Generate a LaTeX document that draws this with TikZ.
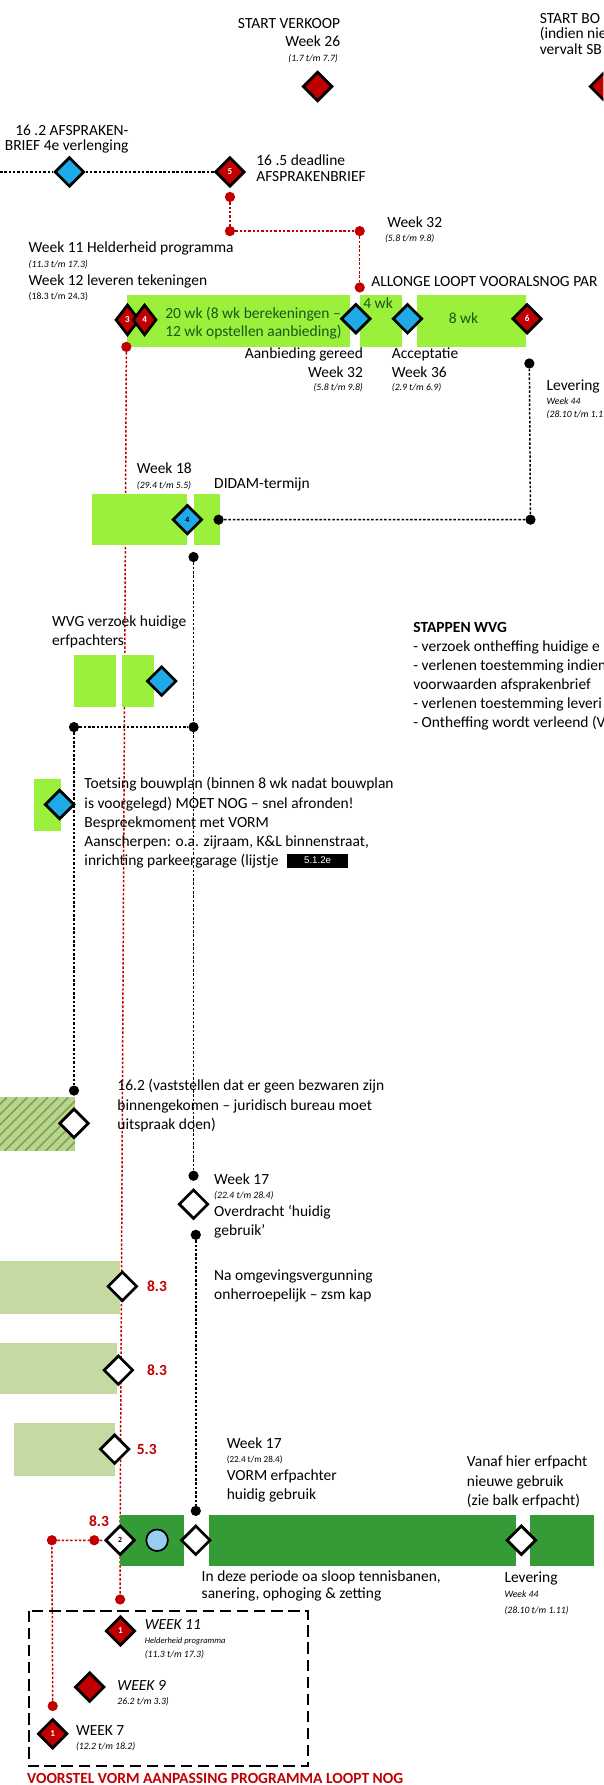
\documentclass[tikz,border=0pt]{standalone}
\usepackage{fontspec}
\setmainfont{Carlito}
\newfontfamily\arialfont{Liberation Sans}
\usepackage{xcolor}
\usetikzlibrary{shapes.geometric, backgrounds}

\definecolor{vred}{RGB}{192,0,0}
\definecolor{vblue}{RGB}{30,170,230}
\definecolor{vlime}{RGB}{155,240,60}
\definecolor{vsage}{RGB}{197,218,163}
\definecolor{vforest}{RGB}{53,155,55}
\definecolor{vhatchbg}{RGB}{185,212,145}
\definecolor{vhatch}{RGB}{125,165,75}
\definecolor{vcircle}{RGB}{150,205,240}
\definecolor{wktext}{RGB}{30,85,25}

\newcommand{\fsz}[2]{\fontsize{#1}{#2}\selectfont}

\tikzset{
  rdia/.style={diamond, draw=black, line width=2.4pt, fill=vred, minimum size=26pt,
    inner sep=0pt, text=white, font=\fsz{8}{8}\bfseries},
  bdia/.style={rdia, fill=vblue, text=black, font=\fsz{7}{7}\bfseries},
  wdia/.style={rdia, fill=white, text=black, font=\fsz{7}{7}\bfseries},
  bdot/.style={circle, fill=black, inner sep=0pt, minimum size=9pt},
  rdot/.style={bdot, fill=vred},
  bline/.style={black, line width=1.3pt, dash pattern=on 2.2pt off 1.6pt},
  rline/.style={bline, vred},
  lbl/.style={inner sep=0pt, align=left, anchor=base west, font=\fsz{13.6}{16.7}},
  datum/.style={inner sep=0pt, anchor=base west, font=\fsz{8.5}{10}\itshape},
  nr/.style={inner sep=0pt, anchor=base west, font=\fsz{13.6}{16}\bfseries, text=vred},
}

\begin{document}
\begin{tikzpicture}[x=1pt, y=-1pt]
    \useasboundingbox (0,0) rectangle (530,1568);
    \clip (0,0) rectangle (530,1568);

    % bars
    \fill[vlime] (111.5,259.3) rectangle (307.6,304.7);
    \fill[vlime] (316,259.3) rectangle (353,304.7);
    \fill[vlime] (366.7,259.3) rectangle (462.4,304.7);
    \fill[vlime] (81,433.6) rectangle (164,479);
    \fill[vlime] (170,433.6) rectangle (193,479);
    \fill[vlime] (65,575.7) rectangle (102,621);
    \fill[vlime] (107,575.7) rectangle (135,621);
    \fill[vlime] (30,684) rectangle (54,730);
    \begin{scope}
      \clip (0,964) rectangle (66,1011);
      \fill[vhatchbg] (0,964) rectangle (66,1011);
      \foreach \x in {-50,-41,...,70}
        \draw[vhatch, line width=1.3pt] (\x,1011) -- ++(47,-47);
    \end{scope}
    \fill[vsage] (0,1107.6) rectangle (105,1153.9);
    \fill[vsage] (0,1179.8) rectangle (103,1224.7);
    \fill[vsage] (12.5,1250.2) rectangle (101.4,1296.5);
    \fill[vforest] (105,1330.7) rectangle (162,1375.6);
    \fill[vforest] (184,1330.7) rectangle (453,1375.6);
    \fill[vforest] (466,1330.7) rectangle (522,1375.6);
    \draw[black, line width=1.6pt, dash pattern=on 10pt off 5pt] (25.4,1415) rectangle (270.4,1551.4);

    % milestones
    \node[rdia] (dVerkoop) at (279,76) {};
    \node[rdia] (dBouw) at (531,76) {};
    \node[bdia] (dAfspraak) at (61,151) {};
    \node[rdia] (d5) at (202,151) {5};
    \node[rdia, minimum width=21pt, minimum height=27pt] (d3) at (112,281) {3};
    \node[rdia, minimum width=21pt, minimum height=27pt] (d4) at (127,281) {4};
    \node[bdia] (dAanbod) at (312.6,280) {};
    \node[bdia] (dAccept) at (358,280) {};
    \node[rdia] (d6) at (463,280) {6};
    \node[bdia] (dDidam) at (164.6,456.5) {4};
    \node[bdia] (dWvg) at (142,598.3) {};
    \node[bdia] (dToets) at (52.4,706.7) {};
    \node[wdia] (dBezwaar) at (65,986.8) {};
    \node[wdia] (dOverdracht) at (170,1057.8) {};
    \node[wdia] (dKapA) at (107.5,1130) {};
    \node[wdia] (dKapB) at (104,1203.6) {};
    \node[wdia] (dKapC) at (100.7,1273) {};
    \node[wdia] (d2) at (105.5,1353) {2};
    \node[circle, draw=black, line width=1.5pt, fill=vcircle, minimum size=19pt] (cOverleg) at (138,1353) {};
    \node[wdia] (dVorm) at (172,1353) {};
    \node[wdia] (dErfpacht) at (458,1353) {};
    \node[rdia] (dW11) at (105.8,1432.7) {1};
    \node[rdia] (dW9) at (78.8,1482) {};
    \node[rdia] (dW7) at (46.3,1523) {1};

    % dots
    \node[rdot] (pR5) at (202,173) {};
    \node[rdot] (pR32a) at (202,203) {};
    \node[rdot] (pR32b) at (316,203) {};
    \node[rdot] (pR32c) at (316,252.5) {};
    \node[rdot] (pR3) at (111,304.7) {};
    \node[bdot] (pLev) at (465,319.3) {};
    \node[bdot] (pDidamL) at (192,456.5) {};
    \node[bdot] (pDidamR) at (466,456.5) {};
    \node[bdot] (pWvgTop) at (170,489.3) {};
    \node[bdot] (pWvgL) at (65,638.7) {};
    \node[bdot] (pWvgR) at (170,638.7) {};
    \node[bdot] (pBezwaar) at (65,958) {};
    \node[bdot] (pOverTop) at (170,1032.8) {};
    \node[bdot] (pOverBot) at (172,1084.7) {};
    \node[bdot] (pVorm) at (172,1327.2) {};
    \node[rdot] (pRedL) at (45.6,1353) {};
    \node[rdot] (pRedM) at (82.8,1353) {};
    \node[rdot] (pW11) at (105.5,1405) {};
    \node[rdot] (pW7) at (46.3,1498.6) {};
    \coordinate (pStart) at (0,151);

    % connectors
    \begin{scope}[on background layer]
      \draw[bline] (pStart) -- (dAfspraak) -- (d5);
      \draw[rline] (pR5) -- (pR32a) -- (pR32b) -- (pR32c);
      \draw[rline] (pR3) -- (d2) -- (pW11);
      \draw[rline] (pW7) -- (pRedL) -- (pRedM) -- (d2);
      \draw[bline] (pLev) -- (pDidamR) -- (pDidamL);
      \draw[bline] (pWvgTop) -- (pOverTop);
      \draw[bline] (pWvgL) -- (pWvgR);
      \draw[bline] (pWvgL) -- (pBezwaar);
      \draw[bline] (pOverBot) -- (pVorm);
    \end{scope}

    % texts (multi-line nodes sit on the baseline of their last line)
    \node[lbl, anchor=base east, align=right, font=\fsz{13.6}{16}] (tVerkoop) at (299,41) {START VERKOOP\\Week 26};
    \node[datum, anchor=base east] (tVerkoopDatum) at (297,54) {(1.7 t/m 7.7)};
    \node[lbl, font=\fsz{13.6}{13.5}] (tBouw) at (474,47.6) {START BO\\(indien nie\\vervalt SB};
    \node[lbl, anchor=base east, align=right, font=\fsz{13.6}{13.5}] (tAfspraak) at (113,132.5) {16 .2 AFSPRAKEN-\\BRIEF 4e verlenging};
    \node[lbl, font=\fsz{13.6}{14.7}] (tDeadline) at (225,159.7) {16 .5 deadline\\AFSPRAKENBRIEF};
    \node[lbl] (tWeek32) at (340,199.5) {Week 32};
    \node[datum] (tWeek32Datum) at (338,212) {(5.8 t/m 9.8)};
    \node[lbl] (tWeek11) at (25,221.5) {Week 11 Helderheid programma};
    \node[datum] (tWeek11Datum) at (25,235) {(11.3 t/m 17.3)};
    \node[lbl] (tWeek12) at (25,250.5) {Week 12 leveren tekeningen};
    \node[datum, font=\fsz{8.5}{10}] (tWeek12Datum) at (25,263) {(18.3 t/m 24.3)};
    \node[lbl] (tAllonge) at (326,252) {ALLONGE LOOPT VOORALSNOG PAR};
    \node[lbl, text=wktext, font=\fsz{13.6}{16}] (tTwintig) at (145,296) {20 wk (8 wk berekeningen –\\12 wk opstellen aanbieding)};
    \node[lbl, text=wktext] (tVierWk) at (319,271) {4 wk};
    \node[lbl, text=wktext] (tAchtWk) at (394,284.5) {8 wk};
    \node[lbl, anchor=base east, align=right, font=\fsz{13.6}{17}] (tAanbod) at (319,332) {Aanbieding gereed\\Week 32};
    \node[datum, anchor=base east] (tAanbodDatum) at (319,343) {(5.8 t/m 9.8)};
    \node[lbl, font=\fsz{13.6}{17}] (tAccept) at (344,332) {Acceptatie\\Week 36};
    \node[datum] (tAcceptDatum) at (344,343) {(2.9 t/m 6.9)};
    \node[lbl] (tLevering) at (480,343) {Levering};
    \node[datum] (tLeveringWk) at (480,355.5) {Week 44};
    \node[datum] (tLeveringDatum) at (480,367) {(28.10 t/m 1.11)};
    \node[lbl] (tWeek18) at (120,416) {Week 18};
    \node[datum] (tWeek18Datum) at (120,429) {(29.4 t/m 5.5)};
    \node[lbl] (tDidam) at (188,429.3) {DIDAM-termijn};
    \node[lbl] (tWvg) at (45.6,567) {WVG verzoek huidige\\erfpachters};
    \node[lbl] (tStappen) at (363,638.8) {\textbf{STAPPEN WVG}\\- verzoek ontheffing  huidige e\\- verlenen toestemming indien\\voorwaarden afsprakenbrief\\- verlenen toestemming leveri\\- Ontheffing wordt verleend (V};
    \node[lbl, font=\fsz{13.6}{16.9}] (tToets) at (74,760.6) {Toetsing bouwplan (binnen 8 wk nadat bouwplan\\is voorgelegd) MOET NOG – snel afronden!\\Bespreekmoment met VORM\\Aanscherpen: o.a. zijraam, K\&L binnenstraat,\\inrichting parkeergarage (lijstje};
    \node[fill=black, text=white, inner sep=0pt, minimum width=54pt, minimum height=12.3pt, font=\arialfont\fsz{8.5}{8.5}] (tLijstje) at (279,756) {5.1.2e};
    \node[lbl, font=\fsz{13.6}{17}] (tBezwaar) at (103,992.2) {16.2 (vaststellen dat er geen bezwaren zijn\\binnengekomen – juridisch bureau moet\\uitspraak doen)};
    \node[lbl] (tWeek17a) at (188,1040.3) {Week 17};
    \node[datum] (tWeek17aDatum) at (188,1053) {(22.4 t/m 28.4)};
    \node[lbl, font=\fsz{13.6}{17}] (tOverdracht) at (188,1085.7) {Overdracht ‘huidig\\gebruik’};
    \node[nr] (tKapA) at (129,1134.5) {8.3};
    \node[nr] (tKapB) at (129,1208) {8.3};
    \node[nr] (tKapC) at (120,1277.5) {5.3};
    \node[nr] (tKapD) at (78,1341) {8.3};
    \node[lbl] (tKap) at (188,1141.9) {Na omgevingsvergunning\\onherroepelijk – zsm kap};
    \node[lbl] (tWeek17b) at (199,1272.5) {Week 17};
    \node[datum, font=\fsz{8}{10}] (tWeek17bDatum) at (199,1284.5) {(22.4 t/m 28.4)};
    \node[lbl] (tVorm) at (199,1317.1) {VORM erfpachter\\huidig gebruik};
    \node[lbl, font=\fsz{13.6}{17}] (tVanaf) at (410,1322.5) {Vanaf hier erfpacht\\nieuwe gebruik\\(zie balk erfpacht)};
    \node[lbl, font=\fsz{13.6}{15.6}] (tSloop) at (177,1404.5) {In deze periode  oa sloop tennisbanen,\\sanering, ophoging \& zetting};
    \node[lbl] (tLevering2) at (443,1389.8) {Levering};
    \node[datum] (tLevering2Wk) at (443,1403) {Week 44};
    \node[datum] (tLevering2Datum) at (443,1417.6) {(28.10 t/m 1.11)};
    \node[lbl, font=\fsz{13.6}{16}\itshape] (tW11) at (127,1431.4) {WEEK 11};
    \node[datum, font=\fsz{7.5}{8}\itshape] (tW11Sub) at (127,1443.5) {Helderheid programma};
    \node[datum] (tW11Datum) at (127,1455.6) {(11.3 t/m 17.3)};
    \node[lbl, font=\fsz{13.6}{16}\itshape] (tW9) at (103,1484.7) {WEEK 9};
    \node[datum] (tW9Datum) at (103,1497) {26.2 t/m 3.3)};
    \node[lbl] (tW7) at (66.6,1524.2) {WEEK 7};
    \node[datum] (tW7Datum) at (66.6,1536.5) {(12.2 t/m 18.2)};
    \node[lbl, font=\fsz{13.6}{16}\bfseries, text=vred] (tVoorstel) at (23.7,1566.5) {VOORSTEL VORM AANPASSING PROGRAMMA LOOPT NOG};
  \end{tikzpicture}
\end{document}
